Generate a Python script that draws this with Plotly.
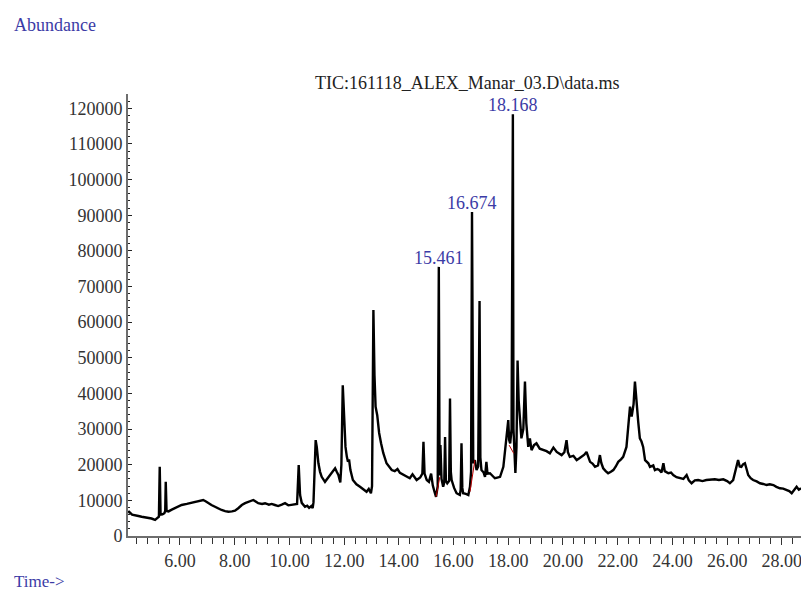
import plotly.graph_objects as go

# Retention time (min) and abundance
time_min = [4.10, 4.14, 4.25, 4.36, 4.48, 4.60, 4.72, 4.84, 4.96, 5.09, 5.18, 5.23, 5.26, 5.29, 5.36,
            5.43, 5.46, 5.48, 5.51, 5.58, 5.70, 5.82, 5.94, 6.06, 6.25, 6.43, 6.61, 6.75, 6.85, 6.95,
            7.03, 7.15, 7.28, 7.40, 7.52, 7.65, 7.77, 7.90, 8.01, 8.13, 8.26, 8.38, 8.50, 8.60, 8.68,
            8.78, 8.86, 9.00, 9.11, 9.25, 9.35, 9.47, 9.59, 9.72, 9.84, 9.96, 10.08, 10.20, 10.28, 10.34,
            10.39, 10.45, 10.57, 10.65, 10.72, 10.80, 10.85, 10.88, 10.93, 10.96, 11.00, 11.06, 11.12, 11.18, 11.30,
            11.40, 11.48, 11.58, 11.67, 11.73, 11.79, 11.86, 11.90, 11.95, 12.00, 12.05, 12.10, 12.14, 12.18, 12.23,
            12.32, 12.45, 12.58, 12.70, 12.82, 12.90, 12.98, 13.02, 13.07, 13.11, 13.15, 13.21, 13.28, 13.35, 13.43,
            13.55, 13.65, 13.74, 13.85, 13.95, 14.04, 14.15, 14.29, 14.40, 14.50, 14.58, 14.65, 14.78, 14.86, 14.90,
            14.94, 15.02, 15.10, 15.18, 15.24, 15.30, 15.36, 15.42, 15.461, 15.49, 15.52, 15.56, 15.62, 15.66, 15.69,
            15.72, 15.77, 15.84, 15.87, 15.90, 15.93, 16.02, 16.11, 16.18, 16.23, 16.26, 16.29, 16.32, 16.35, 16.45,
            16.54, 16.60, 16.64, 16.674, 16.70, 16.72, 16.78, 16.84, 16.90, 16.95, 16.98, 17.02, 17.10, 17.15, 17.20,
            17.24, 17.33, 17.42, 17.51, 17.60, 17.70, 17.82, 17.90, 17.94, 18.00, 18.03, 18.07, 18.12, 18.168, 18.19,
            18.22, 18.26, 18.30, 18.34, 18.38, 18.43, 18.48, 18.55, 18.61, 18.66, 18.73, 18.79, 18.85, 18.94, 19.03,
            19.15, 19.28, 19.40, 19.52, 19.65, 19.77, 19.87, 19.95, 20.05, 20.13, 20.18, 20.25, 20.38, 20.50, 20.60,
            20.68, 20.78, 20.86, 20.92, 20.99, 21.08, 21.17, 21.28, 21.35, 21.40, 21.47, 21.56, 21.65, 21.75, 21.84,
            21.93, 22.02, 22.12, 22.20, 22.32, 22.40, 22.45, 22.51, 22.58, 22.63, 22.69, 22.75, 22.81, 22.87, 22.93,
            23.00, 23.12, 23.18, 23.30, 23.36, 23.45, 23.52, 23.60, 23.67, 23.72, 23.85, 23.95, 24.03, 24.15, 24.27,
            24.40, 24.52, 24.60, 24.70, 24.82, 24.94, 25.10, 25.24, 25.40, 25.55, 25.70, 25.86, 26.00, 26.10, 26.22,
            26.30, 26.34, 26.40, 26.46, 26.52, 26.58, 26.65, 26.71, 26.77, 26.86, 26.95, 27.08, 27.20, 27.32, 27.44,
            27.56, 27.69, 27.80, 27.93, 28.05, 28.17, 28.27, 28.36, 28.45, 28.54, 28.62, 28.70]

abundance = [6600, 6800, 6000, 5900, 5600, 5400, 5300, 5000, 4900, 4500, 5200, 5400, 19400, 6000, 6100,
             6400, 7000, 15200, 7000, 6900, 7400, 7800, 8300, 8700, 9000, 9300, 9600, 9800, 10100, 9700,
             9200, 8700, 8200, 7700, 7300, 7000, 6800, 6900, 7100, 7800, 8700, 9200, 9600, 9800, 10100,
             9600, 9200, 9000, 9200, 8800, 9000, 8700, 8400, 8800, 9200, 8600, 8700, 8800, 9000, 19900,
             11500, 9300, 8200, 8500, 7900, 8400, 7800, 9500, 23500, 26900, 25000, 20400, 18000, 16600, 15200,
             16200, 17100, 17800, 19000, 18000, 17100, 15000, 20000, 42300, 33000, 25000, 22200, 20800, 21500, 18500,
             15700, 14500, 13800, 13000, 12400, 13200, 12000, 14000, 63400, 45000, 36300, 33900, 28900, 26000, 23300,
             20400, 19200, 18500, 18200, 18800, 17700, 17200, 16600, 16200, 17300, 16400, 15700, 16400, 17500, 26400,
             17500, 15700, 15200, 17500, 14200, 12500, 11000, 14000, 75500, 17000, 25500, 16000, 13800, 15000, 27800,
             15500, 14800, 15500, 38600, 18000, 15700, 13500, 12000, 11700, 11500, 13000, 26000, 13500, 12000, 11800,
             11500, 13800, 18000, 90900, 26000, 20400, 21300, 18500, 19500, 65900, 22000, 18500, 17800, 16600, 20800,
             17500, 17600, 16800, 16200, 16400, 16600, 19400, 25000, 28800, 32500, 27000, 26000, 30000, 118300, 30000,
             23600, 17700, 25000, 49200, 38000, 32500, 27400, 30000, 43300, 31600, 25000, 27400, 24100, 25500, 26000,
             24500, 24100, 23800, 23200, 24800, 23600, 23000, 22700, 23500, 26900, 23500, 22200, 22500, 21300, 21800,
             22200, 22800, 23600, 22000, 20800, 20300, 19400, 19800, 22700, 20500, 19000, 18200, 17600, 18000, 18500,
             19500, 20800, 21500, 22200, 25000, 31000, 36300, 33500, 37000, 43300, 36300, 32000, 27400, 26500, 25000,
             21300, 20400, 19400, 19800, 18500, 18800, 18500, 17800, 20400, 18200, 17600, 17800, 17100, 16500, 16200,
             16000, 17100, 15600, 14800, 15600, 15700, 15400, 15700, 15900, 15900, 15700, 15900, 15400, 14800, 15700,
             18000, 19900, 21300, 19500, 19400, 20100, 20400, 18800, 17100, 16200, 15700, 15300, 14800, 14600, 14300,
             14500, 14300, 13800, 13400, 13300, 12900, 12600, 12000, 12800, 13800, 13000, 13400]

# Integration baselines (red segments): start/end times and abundances
base_t0 = [15.36, 16.60, 18.03]
base_a0 = [11000, 12400, 25500]
base_t1 = [15.50, 16.78, 18.20]
base_a1 = [16600, 21300, 23200]

# Labelled peaks
peak_labels = ["15.461", "16.674", "18.168"]
peak_times = [15.461, 16.674, 18.168]
peak_heights = [75500, 90900, 118300]

title_text = "TIC:161118_ALEX_Manar_03.D\\data.ms"

FONT = "Liberation Serif"
BLUE = "#3b3ba6"

fig = go.Figure()
fig.add_trace(go.Scatter(x=time_min, y=abundance, mode="lines",
                         line=dict(color="black", width=2.4), hoverinfo="skip", showlegend=False))

for t0, a0, t1, a1 in zip(base_t0, base_a0, base_t1, base_a1):
    fig.add_trace(go.Scatter(x=[t0, t1], y=[a0, a1], mode="lines",
                             line=dict(color="#b80000", width=1), hoverinfo="skip", showlegend=False))

for lab, t, h in zip(peak_labels, peak_times, peak_heights):
    fig.add_annotation(x=t, y=h, text=lab, showarrow=False, xanchor="center", yanchor="bottom",
                       yshift=-3, font=dict(family=FONT, size=18, color=BLUE))

fig.add_annotation(xref="paper", yref="paper", x=0.505, y=1.024, text=title_text, showarrow=False,
                   xanchor="center", yanchor="middle", font=dict(family=FONT, size=18, color="#222"))
fig.add_annotation(xref="paper", yref="paper", x=-0.1724, y=1.156, text="Abundance", showarrow=False,
                   xanchor="left", yanchor="middle", font=dict(family=FONT, size=18, color=BLUE))
fig.add_annotation(xref="paper", yref="paper", x=-0.1724, y=-0.102, text="Time->", showarrow=False,
                   xanchor="left", yanchor="middle", font=dict(family=FONT, size=17, color=BLUE))

fig.update_layout(
    width=801, height=592,
    margin=dict(l=128, r=0, t=94, b=56, autoexpand=False),
    paper_bgcolor="white", plot_bgcolor="white",
    font=dict(family=FONT, size=18, color="#333"),
    xaxis=dict(range=[4.1, 28.7], tick0=0, dtick=2, tickformat=".2f", automargin=False,
               ticklabeloverflow="allow",
               showgrid=False, zeroline=False, showline=True, linecolor="#6e6e6e", linewidth=2,
               ticks="outside", ticklen=7, tickwidth=1, tickcolor="#333",
               minor=dict(dtick=0.4, tick0=0, ticks="outside", ticklen=6, tickwidth=1, tickcolor="#333", showgrid=False),
               tickfont=dict(family=FONT, size=18, color="#333")),
    yaxis=dict(range=[0, 124000], tick0=0, dtick=10000, tickformat="d", automargin=False,
               showgrid=False, zeroline=False, showline=True, linecolor="#6e6e6e", linewidth=2,
               ticks="inside", ticklen=4, tickwidth=1, tickcolor="#222",
               minor=dict(dtick=2000, ticks="inside", ticklen=2, tickwidth=1, tickcolor="#222", showgrid=False),
               tickfont=dict(family=FONT, size=18, color="#333"), ticklabelstandoff=0),
)

fig.write_html("out.html", config={"displayModeBar": False},
               post_script="document.body.style.margin='0px';document.body.style.overflow='hidden';")
